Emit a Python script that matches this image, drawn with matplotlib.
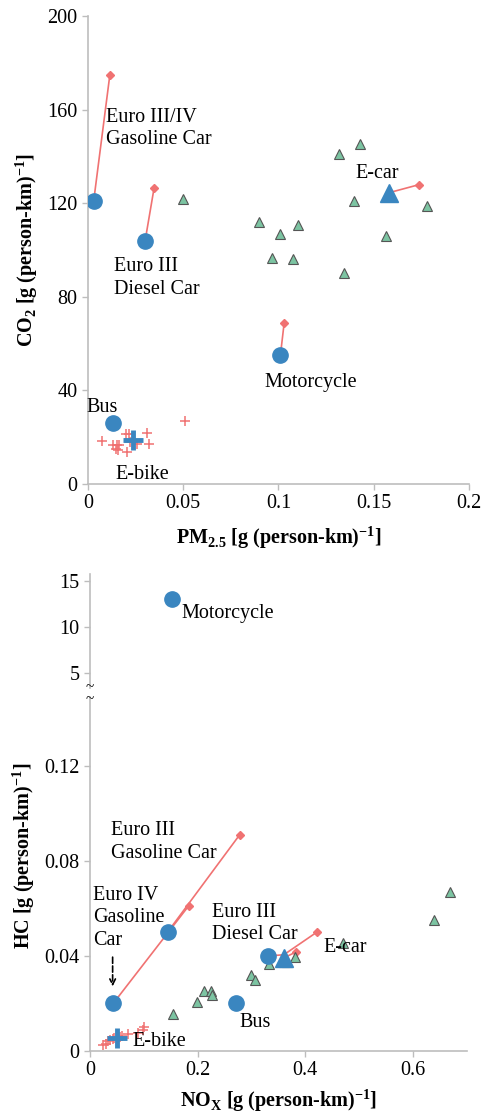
import matplotlib
matplotlib.use("Agg")
import matplotlib.pyplot as plt
from matplotlib.ticker import FuncFormatter

plt.rcParams['font.family'] = ['Liberation Serif', 'DejaVu Serif']
plt.rcParams['mathtext.fontset'] = 'custom'
plt.rcParams['mathtext.rm'] = 'Liberation Serif'
plt.rcParams['mathtext.bf'] = 'Liberation Serif:bold'

BLUE = '#3a86c0'
RED = '#f07272'
GREEN = '#7cc4a2'
GRAY = '#bdbdbd'

# ---- top panel: PM2.5 vs CO2 ----
pm_circle_x = [0.003, 0.030, 0.101, 0.013]
co2_circle_y = [121, 104, 55, 26]
pm_end_x = [0.0115, 0.0347, 0.103]
co2_end_y = [175, 126.5, 69]
pm_ecar = [0.158, 0.174]
co2_ecar = [124.5, 128]
pm_tri = [0.050, 0.090, 0.101, 0.110, 0.0966, 0.1074, 0.1318, 0.1426, 0.1398,
          0.1346, 0.1564, 0.1778]
co2_tri = [122, 112, 107, 110.5, 96.5, 96, 141, 145.5, 121, 90, 106, 119]
pm_ebike = [0.051, 0.0075, 0.013, 0.0145, 0.015, 0.016, 0.0165, 0.020, 0.0215,
            0.0205, 0.0255, 0.031, 0.032, 0.022]
co2_ebike = [27, 18.5, 16.5, 15, 16.5, 14.5, 16.5, 21.5, 21.5, 13.5, 17, 22, 17, 18]
pm_ebike_mean, co2_ebike_mean = 0.0235, 19

# ---- bottom panel: NOx vs HC ----
nox_circle = [0.043, 0.144, 0.330, 0.271]
hc_circle = [0.020, 0.050, 0.040, 0.020]
nox_moto, hc_moto = 0.152, 13.0
nox_line_iv = [0.043, 0.183]
hc_line_iv = [0.020, 0.061]
nox_line_iii = [0.144, 0.278]
hc_line_iii = [0.050, 0.091]
nox_line_diesel = [0.330, 0.360, 0.4225]
hc_line_diesel = [0.040, 0.0405, 0.0502]
nox_ecar = [0.361, 0.382]
hc_ecar = [0.0393, 0.0416]
nox_tri = [0.155, 0.1995, 0.211, 0.225, 0.227, 0.2985, 0.3067, 0.333, 0.361,
           0.365, 0.381, 0.469, 0.639, 0.669]
hc_tri = [0.0155, 0.0208, 0.0254, 0.0254, 0.0236, 0.032, 0.0299, 0.0365, 0.0376,
          0.0376, 0.0397, 0.0456, 0.0552, 0.0671]
nox_ebike = [0.025, 0.030, 0.034, 0.038, 0.042, 0.045, 0.055, 0.060, 0.071,
             0.090, 0.098, 0.101]
hc_ebike = [0.0025, 0.003, 0.004, 0.0045, 0.005, 0.0055, 0.006, 0.0065, 0.0072,
            0.0075, 0.0088, 0.0102]
nox_ebike_mean, hc_ebike_mean = 0.0496, 0.0053

fig = plt.figure(figsize=(4.85, 11.15), dpi=100)
fmt = FuncFormatter(lambda v, p: '%g' % v)


def style(ax, bottom=True):
    for s in ['top', 'right']:
        ax.spines[s].set_visible(False)
    ax.spines['left'].set_color(GRAY)
    ax.spines['left'].set_linewidth(1.2)
    ax.spines['bottom'].set_color(GRAY)
    ax.spines['bottom'].set_linewidth(1.2)
    if not bottom:
        ax.spines['bottom'].set_visible(False)
    ax.tick_params(direction='out', length=4, color=GRAY, labelsize=14.5, width=1)


def red_line(ax, xs, ys):
    ax.plot(xs, ys, color=RED, lw=1.2, zorder=2)
    ax.plot(xs[-1], ys[-1], marker='D', ms=4, color=RED, mec=RED, zorder=2)


# top
ax1 = fig.add_axes([0.1814, 0.5659, 0.7856, 0.4197])
style(ax1)
for i in range(3):
    red_line(ax1, [pm_circle_x[i], pm_end_x[i]], [co2_circle_y[i], co2_end_y[i]])
red_line(ax1, pm_ecar, co2_ecar)
ax1.plot(pm_tri, co2_tri, ls='none', marker='^', ms=6.5, mfc=GREEN, mec='#555555',
         mew=0.8, zorder=3)
ax1.plot(pm_circle_x, co2_circle_y, ls='none', marker='o', ms=11, color=BLUE, zorder=4)
ax1.plot(pm_ecar[0], co2_ecar[0], marker='^', ms=13, color=BLUE, zorder=4)
ax1.plot(pm_ebike, co2_ebike, ls='none', marker='+', ms=6.5, mew=1.1, color=RED, zorder=3)
ax1.plot(pm_ebike_mean, co2_ebike_mean, marker='+', ms=15, mew=3.5, color=BLUE, zorder=4)
ax1.set_xlim(0, 0.2)
ax1.set_ylim(0, 200)
ax1.set_xticks([0, 0.05, 0.1, 0.15, 0.2])
ax1.set_yticks([0, 40, 80, 120, 160, 200])
ax1.xaxis.set_major_formatter(fmt)
ax1.yaxis.set_major_formatter(fmt)
ax1.set_xlabel(r'PM$_{\mathbf{2.5}}$ [g (person-km)$^{\mathbf{-1}}$]', fontsize=14.5,
               fontweight='bold', labelpad=8)
ax1.set_ylabel(r'CO$_{\mathbf{2}}$ [g (person-km)$^{\mathbf{-1}}$]', fontsize=14.5,
               fontweight='bold', labelpad=6)
ax1.yaxis.set_label_coords(-0.125, 0.5)
tk = dict(fontsize=14.5, va='center', ha='left', linespacing=1.25)
ax1.text(0.0095, 152, 'Euro III/IV\nGasoline Car', **tk)
ax1.text(0.0135, 88, 'Euro III\nDiesel Car', **tk)
ax1.text(0.1405, 132.5, 'E-car', **tk)
ax1.text(0.0925, 43.5, 'Motorcycle', **tk)
ax1.text(-0.001, 32.5, 'Bus', **tk)
ax1.text(0.0145, 4, 'E-bike', **tk)

# bottom, upper part
ax2 = fig.add_axes([0.1856, 0.383, 0.777, 0.1022])
style(ax2, bottom=False)
ax2.plot(nox_moto, hc_moto, marker='o', ms=11, color=BLUE, zorder=4)
ax2.set_xlim(0, 0.7)
ax2.set_ylim(3.4, 15.76)
ax2.set_yticks([5, 10, 15])
ax2.set_xticks([])
ax2.text(0.17, 11.5, 'Motorcycle', **tk)

# bottom, lower part
ax3 = fig.add_axes([0.1856, 0.0574, 0.777, 0.3175])
style(ax3)
ax3.plot(nox_ebike, hc_ebike, ls='none', marker='+', ms=6.5, mew=1.1, color=RED, zorder=3)
red_line(ax3, nox_line_iv, hc_line_iv)
red_line(ax3, nox_line_iii, hc_line_iii)
red_line(ax3, nox_line_diesel, hc_line_diesel)
red_line(ax3, nox_ecar, hc_ecar)
ax3.plot(nox_tri, hc_tri, ls='none', marker='^', ms=6.5, mfc=GREEN, mec='#555555',
         mew=0.8, zorder=3)
ax3.plot(nox_circle, hc_circle, ls='none', marker='o', ms=11, color=BLUE, zorder=4)
ax3.plot(nox_ecar[0], hc_ecar[0], marker='^', ms=13, color=BLUE, zorder=4)
ax3.plot(nox_ebike_mean, hc_ebike_mean, marker='+', ms=15, mew=3.5, color=BLUE, zorder=4)
ax3.annotate('', xy=(0.042, 0.0272), xytext=(0.042, 0.0395),
             arrowprops=dict(arrowstyle='->', linestyle='dashed', color='black',
                             lw=1.2, shrinkA=0, shrinkB=0))
ax3.set_xlim(0, 0.7)
ax3.set_ylim(0, 0.149)
ax3.set_xticks([0, 0.2, 0.4, 0.6])
ax3.set_yticks([0, 0.04, 0.08, 0.12])
ax3.xaxis.set_major_formatter(fmt)
ax3.yaxis.set_major_formatter(fmt)
ax3.set_xlabel(r'NO$_{\mathbf{X}}$ [g (person-km)$^{\mathbf{-1}}$]', fontsize=14.5,
               fontweight='bold', labelpad=5)
ax3.set_ylabel(r'HC [g (person-km)$^{\mathbf{-1}}$]', fontsize=14.5,
               fontweight='bold')
ax3.yaxis.set_label_coords(-0.14, 0.55)
ax3.text(0.039, 0.088, 'Euro III\nGasoline Car', **tk)
ax3.text(0.006, 0.056, 'Euro IV\nGasoline\nCar', **tk)
ax3.text(0.227, 0.0537, 'Euro III\nDiesel Car', **tk)
ax3.text(0.433, 0.0434, 'E-car', **tk)
ax3.text(0.277, 0.0122, 'Bus', **tk)
ax3.text(0.079, 0.0042, 'E-bike', **tk)

# axis break marks
for yy in [0.3835, 0.3725]:
    fig.text(0.1856, yy, '~', fontsize=11, ha='center', va='center')

fig.savefig('out.png', dpi=100)
